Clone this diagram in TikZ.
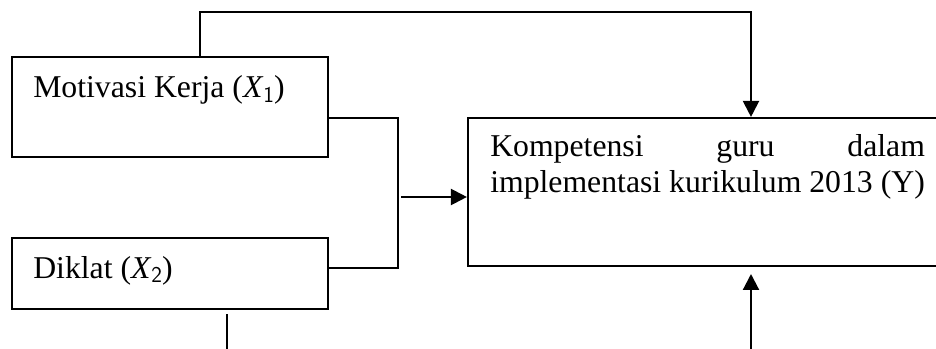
\documentclass[tikz,border=0pt]{standalone}
\usepackage{fontspec}
\setmainfont{Liberation Serif}
\usetikzlibrary{arrows.meta}
\newcommand{\mysub}[1]{\raisebox{-0.3ex}{\fontsize{17}{17}\selectfont\sffamily #1}}
\tikzset{
  box/.style={draw, line width=1.6pt, rectangle, inner sep=0pt},
  txt/.style={inner sep=0pt, font=\fontsize{23.8}{27}\selectfont},
  conn/.style={line width=1.6pt},
  arr/.style={line width=1.6pt, -{Triangle[length=12pt,width=12pt]}}
}
\begin{document}
\begin{tikzpicture}[x=0.75pt,y=-0.75pt]
\useasboundingbox (0,0) rectangle (936,349);
% boxes
\node[box, minimum width=237pt, minimum height=75pt] (b1) at (170,107) {};
\node[box, minimum width=237pt, minimum height=53.25pt] (b2) at (170,273.5) {};
\node[box, minimum width=352.5pt, minimum height=111pt] (by) at (703,192) {};
% texts
\node[txt, anchor=base west] (t1) at (33,98) {Motivasi Kerja (\textit{X}\mysub{1})};
\node[txt, anchor=base west] (t2) at (33,278) {Diklat (\textit{X}\mysub{2})};
\node[txt, anchor=base west] (ty1) at (490,157) {\makebox[326pt][s]{Kompetensi\hfill guru\hfill dalam}};
\node[txt, anchor=base west] (ty2) at (490,193) {implementasi kurikulum 2013 (Y)};
% coordinates
\coordinate (tl) at (200,12);
\coordinate (tr) at (751,12);
\coordinate (j1) at (398,118);
\coordinate (j2) at (398,268);
\coordinate (a0) at (401,197);
\coordinate (d1) at (227,314);
\coordinate (d2) at (227,350);
\coordinate (e1) at (751,350);
\coordinate (e2) at (751,274);
% connectors
\draw[arr] (b1.north -| tl) -- (tl) -- (tr) -- (by.north -| tr);
\draw[conn] (b1.east |- j1) -- (j1) -- (j2) -- (b2.east |- j2);
\draw[arr] (a0) -- (by.west |- a0);
\draw[conn] (d1) -- (d2);
\draw[arr] (e1) -- (e2);
\end{tikzpicture}
\end{document}
